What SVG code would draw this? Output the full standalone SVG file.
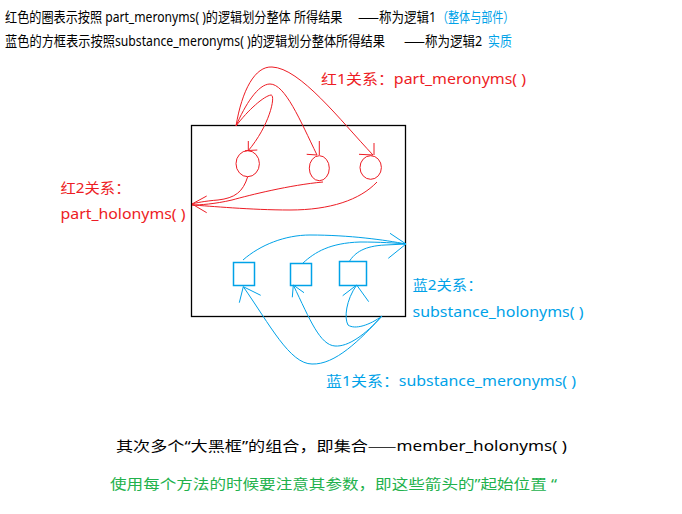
<svg xmlns="http://www.w3.org/2000/svg" width="682" height="514" viewBox="0 0 682 514">
<style>
text{font-family:"Noto Sans","Noto Sans CJK SC",sans-serif;font-size:13.5px}
.h{font-size:14px}
.cj{font-family:"Noto Sans CJK SC",sans-serif}
.k{fill:#000}
.r{fill:#ed1c24}
.b{fill:#00a2e8}
.g{fill:#22b14c}
.rl{fill:none;stroke:#ed1c24;stroke-width:1}
.bl{fill:none;stroke:#00a2e8;stroke-width:1}
.bs{fill:none;stroke:#00a2e8;stroke-width:1.5}
</style>
<rect width="682" height="514" fill="#fff"/>
<g id="header">
<text class="k h" transform="translate(5,22) scale(0.85,1)" textLength="397" lengthAdjust="spacingAndGlyphs">红色的圈表示按照 part_meronyms( )的逻辑划分整体 所得结果</text>
<text class="k h" transform="translate(358,22) scale(0.85,1)" textLength="92" lengthAdjust="spacingAndGlyphs"><tspan class="cj">——</tspan>称为逻辑1</text>
<text class="b h" transform="translate(437,22) scale(0.85,1)" textLength="91" lengthAdjust="spacingAndGlyphs">（整体与部件）</text>
<text class="k h" transform="translate(5,46) scale(0.85,1)" textLength="447" lengthAdjust="spacingAndGlyphs">蓝色的方框表示按照substance_meronyms( )的逻辑划分整体所得结果</text>
<text class="k h" transform="translate(404,46) scale(0.85,1)" textLength="92" lengthAdjust="spacingAndGlyphs"><tspan class="cj">——</tspan>称为逻辑2</text>
<text class="b h" transform="translate(488,46) scale(0.85,1)" textLength="28" lengthAdjust="spacingAndGlyphs">实质</text>
</g>
<g id="whole-box">
<rect x="191.5" y="125.5" width="214" height="191" fill="none" stroke="#000" stroke-width="1.3"/>
</g>
<g id="part-circles">
<ellipse cx="247.7" cy="163.7" rx="11.7" ry="13" class="rl"/>
<ellipse cx="319.3" cy="168.2" rx="10" ry="12.5" class="rl"/>
<ellipse cx="370.7" cy="167.5" rx="10.7" ry="11.8" class="rl"/>
</g>
<g id="substance-squares">
<rect x="233.5" y="262.5" width="21" height="23" class="bs"/>
<rect x="290.5" y="263.5" width="21" height="22" class="bs"/>
<rect x="339.5" y="261.5" width="27" height="24" class="bs"/>
</g>
<g id="connectors">
<path class="rl" d="M236,126 C242,90 255,66 272,67 C300,68 340,120 373,155"/>
<path class="rl" d="M359,154.3 L373,155 M374,143 L374,155"/>
<path class="rl" d="M236,126 C245,105 258,84 270,84 C285,84 300,120 317,155"/>
<path class="rl" d="M306.7,154.3 L317,155 M319.3,141 L319.3,155"/>
<path class="rl" d="M236,126 C248,110 264,96 271,95 C276,95 270,125 248,151"/>
<path class="rl" d="M245,150.7 L257.3,150 M248.3,141 L248.3,151"/>
<path class="rl" d="M247.7,176.7 C243,192 235,198 218,200 C205,201 195,203 192,204"/>
<path class="rl" d="M323,182 C290,185 250,195 232,200 C215,204 200,205 192,205"/>
<path class="rl" d="M377,182 C360,200 330,210 290,210 C250,210 210,206 192,205"/>
<path class="rl" d="M206.7,196 L192,204 L206.7,212.7"/>
<path class="bl" d="M243,260 C260,245 285,235 310,235 C350,235 385,240 406,244"/>
<path class="bl" d="M303,263 C315,252 330,243 360,242 C380,242 395,243 406,244"/>
<path class="bl" d="M349,262 C355,252 365,246 385,245 L406,244"/>
<path class="bl" d="M390,233.3 L406,244 L388.3,258.3"/>
<path class="bl" d="M382,316 C360,340 335,365 312,364 C290,364 270,325 243.3,286.7"/>
<path class="bl" d="M239.3,302.7 L243.3,286.7 L260.7,295.3"/>
<path class="bl" d="M382,316 C365,335 348,347 335,346 C320,345 310,320 293.3,285"/>
<path class="bl" d="M292.3,297.3 L293.3,285 L304,292.7"/>
<path class="bl" d="M382,316 C370,325 355,330 348,325 C344,318 346,300 356.7,285"/>
<path class="bl" d="M342.7,295.7 L356.7,285 L368.7,301.7"/>
</g>
<g id="labels">
<text class="r" x="321" y="84" textLength="205" lengthAdjust="spacingAndGlyphs">红1关系：part_meronyms( )</text>
<text class="r" x="60.5" y="193" textLength="70" lengthAdjust="spacingAndGlyphs">红2关系：</text>
<text class="r" x="60.5" y="219" textLength="125" lengthAdjust="spacingAndGlyphs">part_holonyms( )</text>
<text class="b" x="412.5" y="290" textLength="70" lengthAdjust="spacingAndGlyphs">蓝2关系：</text>
<text class="b" x="412.5" y="317" textLength="171" lengthAdjust="spacingAndGlyphs">substance_holonyms( )</text>
<text class="b" x="326" y="386" textLength="250" lengthAdjust="spacingAndGlyphs">蓝1关系：substance_meronyms( )</text>
</g>
<g id="footer">
<text class="k" x="116" y="451" textLength="451" lengthAdjust="spacingAndGlyphs">其次多个“大黑框”的组合，即集合<tspan class="cj">——</tspan>member_holonyms( )</text>
<text class="g" x="110" y="489" textLength="447" lengthAdjust="spacingAndGlyphs">使用每个方法的时候要注意其参数，即这些箭头的”起始位置 “</text>
</g>
</svg>
